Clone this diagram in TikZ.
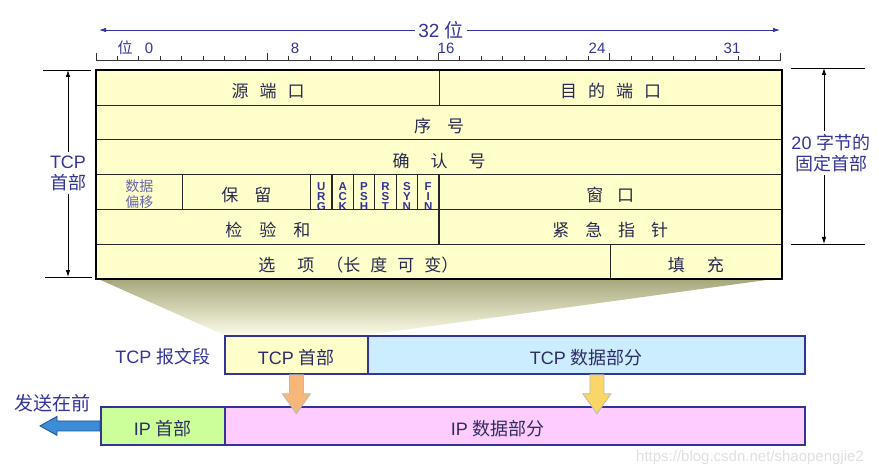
\documentclass[tikz,border=0pt]{standalone}
\usepackage{fontspec}
\setmainfont{Liberation Sans}
\newfontfamily\cjk{Noto Sans CJK SC}
\usetikzlibrary{arrows.meta}

\definecolor{labblue}{RGB}{51,51,153}
\definecolor{tabtext}{RGB}{40,40,80}
\definecolor{tabfill}{RGB}{255,255,204}
\definecolor{segline}{RGB}{51,51,153}
\definecolor{segtext}{RGB}{45,45,100}
\definecolor{hdrfill}{RGB}{255,255,204}
\definecolor{datfill}{RGB}{204,236,255}
\definecolor{iphfill}{RGB}{204,255,153}
\definecolor{ipdfill}{RGB}{255,204,255}
\definecolor{orangearr}{RGB}{247,183,122}
\definecolor{yellowarr}{RGB}{250,214,102}
\definecolor{bluearr}{RGB}{60,141,214}
\definecolor{bluedark}{RGB}{30,80,150}
\definecolor{shadetop}{RGB}{165,165,122}
\definecolor{shadebot}{RGB}{252,252,232}

\newcommand\fs[2]{\fontsize{#1}{#2}\selectfont}
\newcommand\gp[1][15pt]{\hspace{#1}}

\tikzset{
  cellbase/.style={draw=black!85, line width=1.1pt, fill=tabfill, inner sep=0pt, anchor=north west,
    minimum height=34.7pt, text=tabtext, font=\cjk\fs{17}{17}},
  cell/.style={cellbase, text height=22pt, text depth=2pt},
  flag/.style={cellbase, minimum width=21.4pt, font=\bfseries\fs{11.5}{10}, text=labblue, align=center,
    text height=36pt, text depth=0pt},
  seg/.style={draw=segline, line width=1.8pt, inner sep=0pt, anchor=north west,
    minimum height=38pt, text=segtext, font=\fs{18}{20}, text height=21pt, text depth=2pt},
  lab/.style={text=labblue, font=\fs{18}{21}},
  bracket/.style={-{Latex[length=7pt,width=4.5pt]}, line width=0.8pt},
  blockarr/.style={draw=gray!55, line width=0.8pt},
}

\begin{document}
\begin{tikzpicture}[x=1pt, y=-1pt]
\useasboundingbox (0,0) rectangle (879,476);

% shadow from the header down to the segment
\shade[top color=shadetop, bottom color=shadebot] (96,278) -- (781,278) -- (367,335) -- (224,335) -- cycle;

% 32 bits
\node[lab, font=\fs{19}{21}] (bits) at (441,30) {32 {\cjk 位}};
\coordinate (bitsl) at (99,30);
\coordinate (bitsr) at (780,30);
\draw[bracket, labblue] (bits) -- (bitsl);
\draw[bracket, labblue] (bits) -- (bitsr);

% ruler
\draw[line width=0.8pt, black!80] (96,60) -- (780.8,60);
\foreach \i in {0,...,32}{
  \pgfmathsetmacro\tl{ifthenelse(mod(\i,8)==0,7,3.5)}
  \draw[line width=0.8pt, black!80] (96+21.4*\i,60) -- ++(0,-\tl);
}
\node[lab, font=\cjk\fs{15}{17}] (wei) at (125,48) {位};
\node[lab, font=\fs{15}{17}] (b0) at (149,48.5) {0};
\node[lab, font=\fs{15}{17}] (b8) at (295,48.5) {8};
\node[lab, font=\fs{15}{17}] (b16) at (446,48.5) {16};
\node[lab, font=\fs{15}{17}] (b24) at (597,48.5) {24};
\node[lab, font=\fs{15}{17}] (b31) at (732,48.5) {31};

% TCP header bracket
\node[lab, align=center] (tcphdr) at (68,173) {TCP\\{\cjk 首部}};
\coordinate (lt) at (68,70);
\coordinate (lb) at (68,277);
\draw[bracket] (tcphdr) -- (lt);
\draw[bracket] (tcphdr) -- (lb);
\draw[line width=0.8pt] (43,70) -- (91,70);
\draw[line width=0.8pt] (45,277) -- (92,277);

% 20 bytes bracket
\node[lab, align=center] (fixhdr) at (831,153) {20 {\cjk 字节的}\\{\cjk 固定首部}};
\coordinate (rt) at (824,68);
\coordinate (rb) at (824,244);
\draw[bracket] (fixhdr.north -| rt) -- (rt);
\draw[bracket] (fixhdr.south -| rb) -- (rb);
\draw[line width=0.8pt] (791,68) -- (865,68);
\draw[line width=0.8pt] (791,244) -- (865,244);

% header fields
\node[cell, minimum width=343pt] (sport) at (96,70) {源\gp[11pt]端\gp[11pt]口};
\node[cell, minimum width=342pt] (dport) at (439,70) {目\gp[11pt]的\gp[11pt]端\gp[11pt]口};
\node[cell, minimum width=685pt] (seq) at (96,104.7) {序\gp[16pt]号};
\node[cell, minimum width=685pt] (ack) at (96,139.4) {确\gp[21pt]认\gp[21pt]号};
\node[cellbase, minimum width=85.6pt, font=\cjk\fs{14}{16}, align=center, text=labblue!75,
  text height=33pt, text depth=1.7pt] (doff) at (96,174.1) {数据\\偏移};
\node[cell, minimum width=128.4pt] (resv) at (181.6,174.1) {保\gp[16pt]留};
\foreach \f [count=\i from 0] in {{U\\R\\G},{A\\C\\K},{P\\S\\H},{R\\S\\T},{S\\Y\\N},{F\\I\\N}}
  \node[flag] (flag\i) at (310+21.4*\i,174.1) {\f};
\node[cell, minimum width=342.6pt] (win) at (438.4,174.1) {窗\gp[14pt]口};
\node[cell, minimum width=342.4pt] (csum) at (96,208.8) {检\gp[17pt]验\gp[17pt]和};
\node[cell, minimum width=342.6pt] (urg) at (438.4,208.8) {紧\gp[16pt]急\gp[16pt]指\gp[16pt]针};
\node[cell, minimum width=513.6pt] (opt) at (96,243.5) {\hspace{10pt}选\gp[22pt]项\gp[12pt]（长\gp[10pt]度\gp[10pt]可\gp[10pt]变）};
\node[cell, minimum width=171.2pt] (pad) at (609.6,243.5) {填\gp[22pt]充};
\draw[line width=2pt] (sport.north west) rectangle (pad.south east);

% TCP segment
\node[lab] (seglab) at (163,357) {TCP {\cjk 报文段}};
\node[seg, fill=hdrfill, minimum width=143pt] (tcph) at (224,335) {TCP {\cjk 首部}};
\node[seg, fill=datfill, minimum width=437pt] (tcpd) at (367,335) {TCP {\cjk 数据部分}};

% IP datagram
\node[seg, fill=iphfill, minimum width=124pt] (iph) at (100,406) {IP {\cjk 首部}};
\node[seg, fill=ipdfill, minimum width=580pt] (ipd) at (224,406) {IP {\cjk 数据部分}\rule{34pt}{0pt}};

% down arrows
\draw[blockarr, fill=orangearr] (tcph.south) ++(-7,0) -- ++(0,19) -- ++(-7,0) -- ++(14,20)
  -- ++(14,-20) -- ++(-7,0) -- ++(0,-19) -- cycle;
\draw[blockarr, fill=yellowarr] ([xshift=10.5pt]tcpd.south) ++(-7,0) -- ++(0,19) -- ++(-7,0) -- ++(14,20)
  -- ++(14,-20) -- ++(-7,0) -- ++(0,-19) -- cycle;

% sent first
\node[lab, font=\cjk\fs{19}{21}] (sendfirst) at (53,403) {发送在前};
\draw[draw=bluedark, line width=0.8pt, fill=bluearr] (iph.west) ++(0,-5) -- ++(-43,0) -- ++(0,-4.5)
  -- ++(-17,9.5) -- ++(17,9.5) -- ++(0,-4.5) -- ++(43,0) -- cycle;

\node[text=black!12, font=\fs{15}{17}] (mark) at (750,458) {https://blog.csdn.net/shaopengjie2};
\end{tikzpicture}
\end{document}
